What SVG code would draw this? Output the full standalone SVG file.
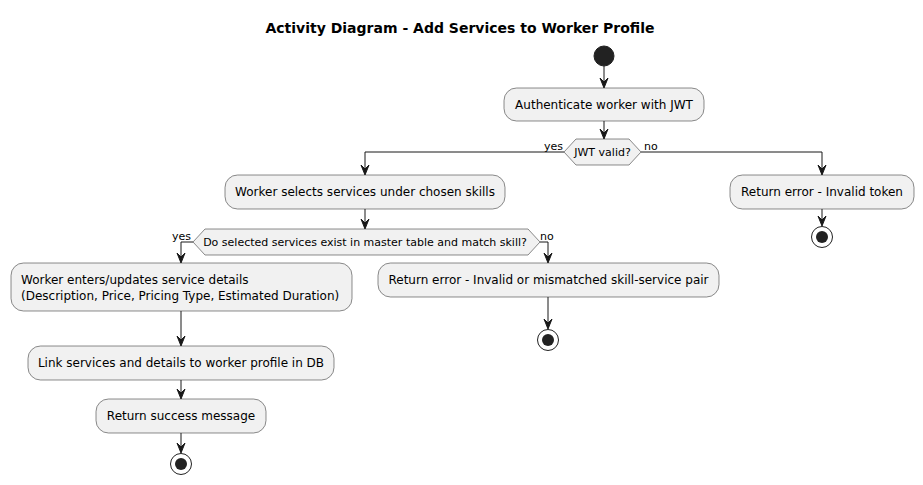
<svg xmlns="http://www.w3.org/2000/svg" width="923" height="485" viewBox="0 0 923 485">
<style>
.box{fill:#F1F1F1;stroke:#181818;stroke-width:0.5}
.t{font-family:"DejaVu Sans",sans-serif;font-size:12px;fill:#000}
.s{font-family:"DejaVu Sans",sans-serif;font-size:11px;fill:#000}
.ln{fill:none;stroke:#181818;stroke-width:1}
.ah{fill:#181818;stroke:#181818;stroke-width:1}
.start{fill:#222222;stroke:#222222}
.endo{fill:none;stroke:#222222;stroke-width:1}
.endi{fill:#222222}
</style>
<rect width="923" height="485" fill="#FFFFFF"/>
<text x="460" y="33" text-anchor="middle" style="font-family:'DejaVu Sans',sans-serif;font-size:14px;font-weight:bold">Activity Diagram - Add Services to Worker Profile</text>

<g id="start"><circle class="start" cx="604" cy="56" r="10"/></g>
<g id="auth"><rect class="box" x="504" y="88" width="200" height="33" rx="12.5"/><text class="t" x="604" y="109" text-anchor="middle">Authenticate worker with JWT</text></g>
<g id="jwt"><polygon class="box" points="564,152 576,139 629,139 641,152 629,165 576,165"/><text class="s" x="602.5" y="156" text-anchor="middle">JWT valid?</text></g>
<g id="select"><rect class="box" x="225" y="175" width="280" height="34" rx="12.5"/><text class="t" x="365" y="196" text-anchor="middle">Worker selects services under chosen skills</text></g>
<g id="errtoken"><rect class="box" x="730" y="175" width="184" height="34" rx="12.5"/><text class="t" x="822" y="196" text-anchor="middle">Return error - Invalid token</text></g>
<g id="end3"><circle class="endo" cx="822" cy="237" r="10.5"/><circle class="endi" cx="822" cy="237" r="6"/></g>
<g id="exist"><polygon class="box" points="193,242 205,229 528,229 540,242 528,255 205,255"/><text class="s" x="365" y="246" text-anchor="middle">Do selected services exist in master table and match skill?</text></g>
<g id="details"><rect class="box" x="11" y="263" width="341" height="48" rx="12.5"/><text class="t" x="21" y="284">Worker enters/updates service details</text><text class="t" x="21" y="300">(Description, Price, Pricing Type, Estimated Duration)</text></g>
<g id="errpair"><rect class="box" x="378" y="263" width="341" height="34" rx="12.5"/><text class="t" x="548.5" y="284" text-anchor="middle">Return error - Invalid or mismatched skill-service pair</text></g>
<g id="end2"><circle class="endo" cx="548" cy="340" r="10.5"/><circle class="endi" cx="548" cy="340" r="6"/></g>
<g id="link"><rect class="box" x="28" y="346" width="306" height="34" rx="12.5"/><text class="t" x="181" y="367" text-anchor="middle">Link services and details to worker profile in DB</text></g>
<g id="success"><rect class="box" x="96" y="399" width="170" height="34" rx="12.5"/><text class="t" x="181" y="420" text-anchor="middle">Return success message</text></g>
<g id="end1"><circle class="endo" cx="181" cy="464" r="10.5"/><circle class="endi" cx="181" cy="464" r="6"/></g>

<g id="connectors">
<path class="ln" d="M604,66 V86"/><polygon class="ah" points="600,78 604,88 608,78 604,82"/>
<path class="ln" d="M604,121 V137"/><polygon class="ah" points="600,129 604,139 608,129 604,133"/>
<path class="ln" d="M564,152 H365 V173"/><polygon class="ah" points="361,165 365,175 369,165 365,169"/>
<text class="s" x="544" y="150">yes</text>
<path class="ln" d="M641,152 H822 V173"/><polygon class="ah" points="818,165 822,175 826,165 822,169"/>
<text class="s" x="644" y="150">no</text>
<path class="ln" d="M822,209 V224"/><polygon class="ah" points="818,216 822,226 826,216 822,220"/>
<path class="ln" d="M365,209 V227"/><polygon class="ah" points="361,219 365,229 369,219 365,223"/>
<path class="ln" d="M193,242 H181 V261"/><polygon class="ah" points="177,253 181,263 185,253 181,257"/>
<text class="s" x="172" y="240">yes</text>
<path class="ln" d="M540,242 H548 V261"/><polygon class="ah" points="544,253 548,263 552,253 548,257"/>
<text class="s" x="540" y="240">no</text>
<path class="ln" d="M548,297 V327"/><polygon class="ah" points="544,319 548,329 552,319 548,323"/>
<path class="ln" d="M181,311 V344"/><polygon class="ah" points="177,336 181,346 185,336 181,340"/>
<path class="ln" d="M181,380 V397"/><polygon class="ah" points="177,389 181,399 185,389 181,393"/>
<path class="ln" d="M181,433 V451"/><polygon class="ah" points="177,443 181,453 185,443 181,447"/>
</g>
</svg>
